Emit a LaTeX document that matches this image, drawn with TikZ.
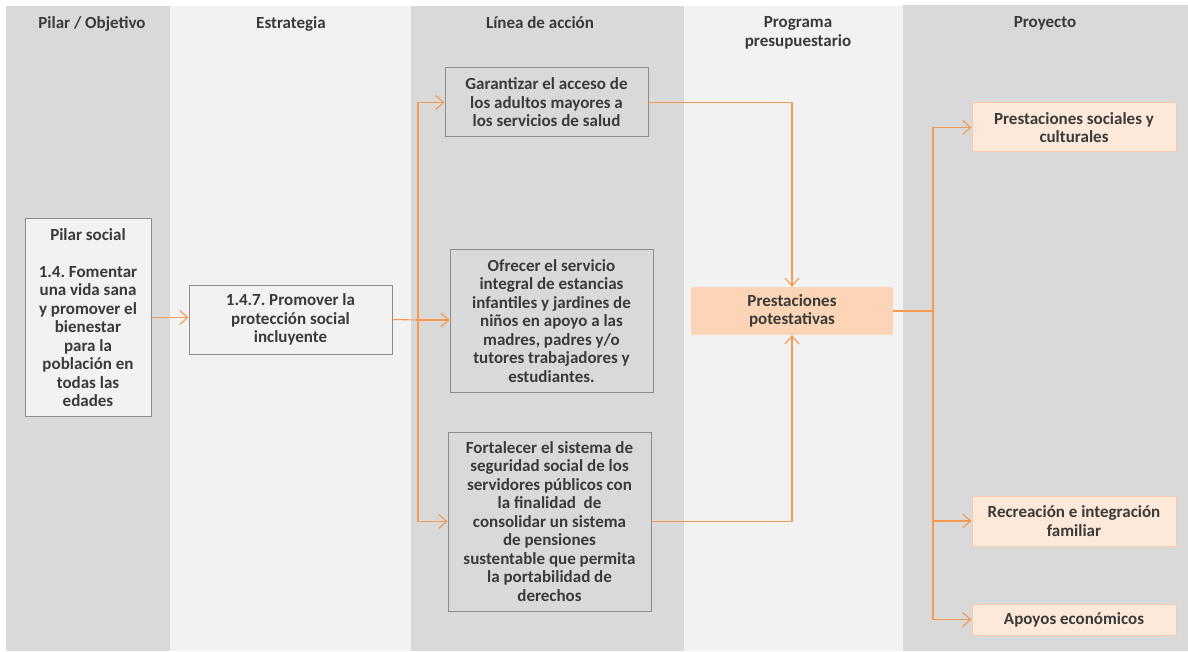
\documentclass[tikz,border=0pt]{standalone}
\usepackage{fontspec}
\setmainfont{Carlito}
\frenchspacing
\usetikzlibrary{arrows.meta,calc}
\definecolor{colgray}{HTML}{D9D9D9}
\definecolor{collight}{HTML}{F2F2F2}
\definecolor{boxline}{HTML}{8C8C8C}
\definecolor{txtgray}{HTML}{3A3A3A}
\definecolor{peach}{HTML}{FBD5B5}
\definecolor{peachlight}{HTML}{FDE9D9}
\definecolor{peachline}{HTML}{F8CBAD}
\definecolor{linkorange}{HTML}{F59A50}
\tikzset{
  header/.style={font=\fontsize{17}{19}\selectfont\bfseries, text=txtgray, align=center, anchor=north},
  basebox/.style={font=\fontsize{17}{18.5}\selectfont\bfseries, text=txtgray, align=center,
    inner sep=0pt, minimum width=203pt},
  graybox/.style={basebox, draw=boxline, line width=1pt, fill=colgray},
  lightbox/.style={basebox, draw=boxline, line width=1pt, fill=collight},
  mainbox/.style={basebox, fill=peach},
  projbox/.style={basebox, draw=peachline, line width=1pt, fill=peachlight, minimum width=204pt},
  arr/.style={draw=linkorange, line width=1.1pt, -{Straight Barb[length=8pt,width=14pt]}},
  link/.style={draw=linkorange, line width=1.1pt}
}
\begin{document}
\begin{tikzpicture}[x=1pt,y=-1pt]
% background and columns
\fill[white] (0,0) rectangle (1188,652);
\useasboundingbox (0,0) rectangle (1188,652);
\fill[colgray] (6,6) rectangle (170,651);
\fill[collight] (170,6) rectangle (411,651);
\fill[colgray] (411,6) rectangle (684,651);
\fill[collight] (684,6) rectangle (903,651);
\fill[colgray] (903,5) rectangle (1188,651);

% headers
\node[header] (hpilar) at (92,13) {Pilar / Objetivo};
\node[header] (hestr) at (291,13) {Estrategia};
\node[header] (hlinea) at (540,13) {Línea de acción};
\node[header] (hprog) at (798,13) {Programa\\presupuestario};
\node[header] (hproy) at (1045,13) {Proyecto};

% boxes
\node[lightbox, minimum width=126pt, minimum height=197pt] (pilar) at (88,317.5)
  {Pilar social\\[18.5pt]1.4. Fomentar\\una vida sana\\y promover el\\bienestar\\para la\\población en\\todas las\\edades};
\node[lightbox, minimum height=69pt] (estr) at (290.5,319.5)
  {1.4.7. Promover la\\protección social\\incluyente};
\node[graybox, minimum height=69pt] (gar) at (546.5,102.5)
  {Garantizar el acceso de\\los adultos mayores a\\los servicios de salud};
\node[graybox, minimum height=142pt] (ofr) at (551.5,321)
  {Ofrecer el servicio\\integral de estancias\\infantiles y jardines de\\niños en apoyo a las\\madres, padres y/o\\tutores trabajadores y\\estudiantes.};
\node[graybox, minimum height=179pt] (fort) at (549.5,521.5)
  {Fortalecer el sistema de\\seguridad social de los\\servidores públicos con\\la finalidad~~de\\consolidar un sistema\\de pensiones\\sustentable que permita\\la portabilidad de\\derechos};
\node[mainbox, minimum width=202pt, minimum height=48pt] (prest) at (792,311)
  {Prestaciones\\potestativas};
\node[projbox, minimum height=49pt] (soc) at (1074,127.5)
  {Prestaciones sociales y\\culturales};
\node[projbox, minimum height=50pt] (recr) at (1074,521)
  {Recreación e integración\\familiar};
\node[projbox, minimum height=31pt] (apoy) at (1074,619.5)
  {Apoyos económicos};

% connectors
\coordinate (busa) at (418,320);
\coordinate (busb) at (933,311);
\draw[arr] (pilar.east) -- (pilar.east -| estr.west);
\draw[link] (estr.east) -- (busa);
\draw[arr] (busa) -- (busa -| ofr.west);
\draw[arr] (busa) |- (gar.west);
\draw[arr] (busa) |- (fort.west);
\draw[arr] (gar.east) -| (prest.north);
\draw[arr] (fort.east) -| (prest.south);
\draw[link] (prest.east) -- (busb);
\draw[arr] (busb) |- (soc.west);
\draw[arr] (busb) |- (recr.west);
\draw[arr] (busb) |- (apoy.west);
\end{tikzpicture}
\end{document}
